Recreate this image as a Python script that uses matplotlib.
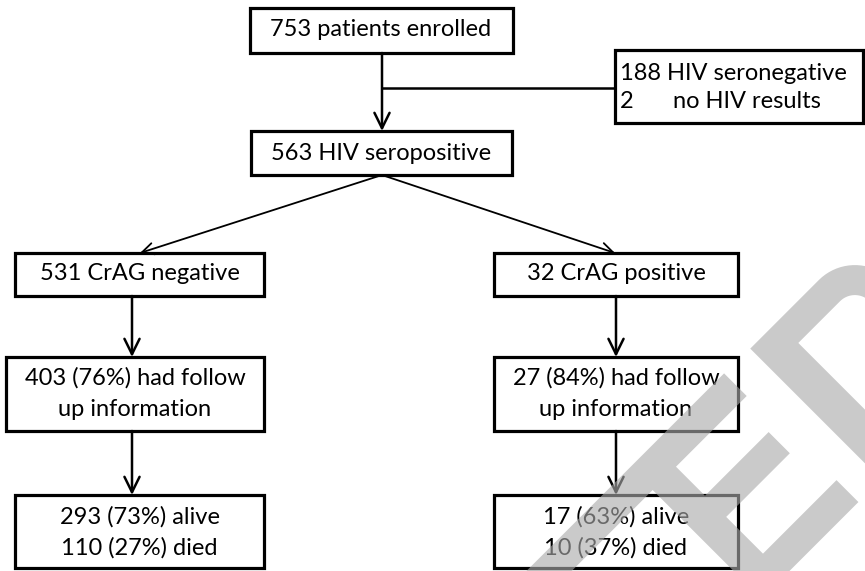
import numpy as np
import matplotlib
matplotlib.use("Agg")
import matplotlib.pyplot as plt
from matplotlib.patches import Rectangle, Polygon

plt.rcParams["font.family"] = ["Lato", "DejaVu Sans"]

# counts shown in the flow chart
enrolled = 753
seronegative = 188
no_result = 2
seropositive = 563
crag_neg, crag_pos = 531, 32
followup = [403, 27]
followup_pct = [76, 84]
alive = [293, 17]
alive_pct = [73, 63]
died = [110, 10]
died_pct = [27, 37]

FS = 17
BOX_LW = 2.3
ARROW_LW = 1.8

fig = plt.figure(figsize=(8.65, 5.71), dpi=100)
ax = fig.add_axes([0, 0, 1, 1])
ax.set_xlim(0, 865)
ax.set_ylim(571, 0)
ax.axis("off")


def box(x0, y0, x1, y1):
    ax.add_patch(Rectangle((x0, y0), x1 - x0, y1 - y0, fill=False,
                           ec="black", lw=BOX_LW, zorder=3))


def label(x, y, s, ha="center"):
    ax.text(x, y, s, ha=ha, va="center", fontsize=FS, color="black", zorder=4)


def arrow(x0, y0, x1, y1, lw=ARROW_LW, scale=15):
    ax.annotate("", xy=(x1, y1), xytext=(x0, y0),
                arrowprops=dict(arrowstyle="->,head_length=0.65,head_width=0.32",
                                lw=lw, color="black", mutation_scale=scale,
                                shrinkA=0, shrinkB=0), zorder=2)


# top: enrolled -> seropositive, exclusions to the side
box(250, 8, 513, 53)
label(381, 30, f"{enrolled} patients enrolled")
box(615, 50, 863, 123)
label(620, 73, f"{seronegative} HIV seronegative", ha="left")
label(620, 101, f"{no_result}", ha="left")
label(673, 101, "no HIV results", ha="left")
ax.plot([382, 615], [88, 88], color="black", lw=ARROW_LW, zorder=2)
arrow(382, 53, 382, 131, scale=17)

box(251, 131, 512, 175)
label(381, 153, f"{seropositive} HIV seropositive")

# split by CrAG result
arrow(382, 175, 140, 253, lw=1.3, scale=13)
arrow(382, 175, 615, 253, lw=1.3, scale=13)

cols = [dict(cx=132, tx=(15, 264), fx=(6, 264), bx=(15, 264), head=f"{crag_neg} CrAG negative"),
        dict(cx=616, tx=(494, 738), fx=(494, 738), bx=(494, 738), head=f"{crag_pos} CrAG positive")]

for i, c in enumerate(cols):
    box(c["tx"][0], 253, c["tx"][1], 296)
    mid = (c["tx"][0] + c["tx"][1]) / 2
    label(mid, 274, c["head"])
    arrow(c["cx"], 296, c["cx"], 357, scale=17)

    box(c["fx"][0], 357, c["fx"][1], 431)
    mid = (c["fx"][0] + c["fx"][1]) / 2
    label(mid, 378, f"{followup[i]} ({followup_pct[i]}%) had follow")
    label(mid, 410, "up information")
    arrow(c["cx"], 431, c["cx"], 495, scale=17)

    box(c["bx"][0], 495, c["bx"][1], 568)
    mid = (c["bx"][0] + c["bx"][1]) / 2
    label(mid, 517, f"{alive[i]} ({alive_pct[i]}%) alive")
    label(mid, 548, f"{died[i]} ({died_pct[i]}%) died")


# grey watermark, drawn in a frame rotated by 45 degrees
def rot(pts):
    pts = np.asarray(pts, dtype=float)
    u, v = pts[:, 0], pts[:, 1]
    return np.column_stack([(u + v) / np.sqrt(2), (v - u) / np.sqrt(2)])


shape_e = [(-120, 776), (248, 776), (248, 808), (148, 808), (148, 849), (238, 849),
           (238, 879), (148, 879), (148, 931), (252, 931), (252, 962), (115, 962),
           (115, 808), (-120, 808)]

t = np.linspace(0, np.pi / 2, 20)
outer = [(381 + 51 * np.sin(a), 828 - 51 * np.cos(a)) for a in t]
inner = [(381 + 21 * np.sin(a), 828 - 21 * np.cos(a)) for a in t[::-1]]
shape_d = ([(284, 1250), (284, 777)] + outer + [(432, 1250), (402, 1250)]
           + inner + [(322, 807), (322, 1250)])

for shp in (shape_e, shape_d):
    ax.add_patch(Polygon(rot(shp), closed=True, fc="#aaaaaa", ec="none",
                         alpha=0.62, zorder=10))

fig.savefig("out.png", dpi=100)
